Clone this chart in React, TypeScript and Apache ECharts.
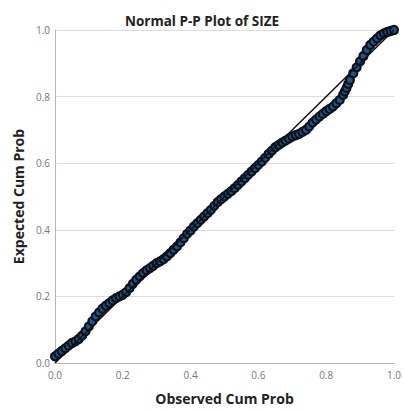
import React, { useEffect, useRef } from "react";
import * as echarts from "echarts";

const chartTitle = "Normal P-P Plot of SIZE";
const xAxisTitle = "Observed Cum Prob";
const yAxisTitle = "Expected Cum Prob";

const observedCumProb = [
  0.0, 0.01, 0.02, 0.03, 0.04, 0.05, 0.06, 0.07, 0.08, 0.09,
  0.1, 0.11, 0.12, 0.13, 0.14, 0.15, 0.16, 0.17, 0.18, 0.19,
  0.2, 0.21, 0.22, 0.23, 0.24, 0.25, 0.26, 0.27, 0.28, 0.29,
  0.3, 0.31, 0.32, 0.33, 0.34, 0.35, 0.36, 0.37, 0.38, 0.39,
  0.4, 0.41, 0.42, 0.43, 0.44, 0.45, 0.46, 0.47, 0.48, 0.49,
  0.5, 0.51, 0.52, 0.53, 0.54, 0.55, 0.56, 0.57, 0.58, 0.59,
  0.6, 0.61, 0.62, 0.63, 0.64, 0.65, 0.66, 0.67, 0.68, 0.69,
  0.7, 0.71, 0.72, 0.73, 0.74, 0.75, 0.76, 0.77, 0.78, 0.79,
  0.8, 0.81, 0.82, 0.83, 0.84, 0.85, 0.855, 0.86, 0.865, 0.87, 0.88, 0.89,
  0.9, 0.91, 0.92, 0.93, 0.94, 0.95, 0.96, 0.97, 0.98, 0.99,
  1.0,
];

const expectedCumProb = [
  0.02, 0.028, 0.036, 0.044, 0.052, 0.06, 0.065, 0.072, 0.082, 0.095,
  0.11, 0.125, 0.14, 0.152, 0.163, 0.172, 0.18, 0.188, 0.195, 0.2,
  0.205, 0.213, 0.225, 0.238, 0.25, 0.26, 0.27, 0.278, 0.285, 0.292,
  0.3, 0.305, 0.312, 0.32, 0.33, 0.34, 0.35, 0.362, 0.375, 0.388,
  0.398, 0.41, 0.42, 0.43, 0.44, 0.45, 0.46, 0.472, 0.483, 0.492,
  0.5, 0.508, 0.516, 0.525, 0.535, 0.545, 0.555, 0.565, 0.575, 0.585,
  0.595, 0.605, 0.616, 0.628, 0.638, 0.648, 0.655, 0.662, 0.668, 0.674,
  0.68, 0.684, 0.688, 0.694, 0.7, 0.71, 0.722, 0.731, 0.74, 0.748,
  0.756, 0.763, 0.77, 0.78, 0.79, 0.805, 0.815, 0.826, 0.838, 0.85, 0.87, 0.888,
  0.906, 0.922, 0.94, 0.955, 0.965, 0.975, 0.984, 0.99, 0.994, 0.997,
  1.0,
];

const diagonal = [
  [0, 0],
  [1, 1],
];

const tickFont = "'Open Sans', 'DejaVu Sans', sans-serif";

export default function App() {
  const ref = useRef<HTMLDivElement>(null);

  useEffect(() => {
    if (!ref.current) return;
    const chart = echarts.init(ref.current, undefined, { renderer: "svg" });
    const points = observedCumProb.map((x, i) => [x, expectedCumProb[i]]);
    chart.setOption({
      animation: false,
      backgroundColor: "#ffffff",
      title: {
        text: chartTitle,
        left: "center",
        top: 9,
        textStyle: {
          fontFamily: tickFont,
          fontWeight: "bold",
          fontSize: 13.5,
          color: "#222",
        },
      },
      grid: { left: 55, right: 10, top: 30, bottom: 40 },
      xAxis: {
        type: "value",
        min: 0,
        max: 1,
        interval: 0.2,
        name: xAxisTitle,
        nameLocation: "middle",
        nameGap: 28,
        nameTextStyle: {
          fontFamily: tickFont,
          fontWeight: "bold",
          fontSize: 14,
          color: "#222",
        },
        axisLine: { show: true, lineStyle: { color: "#b5b5b5", width: 1 } },
        axisTick: { show: false },
        splitLine: { show: false },
        axisLabel: {
          fontFamily: tickFont,
          fontSize: 10,
          color: "#777",
          margin: 7,
          formatter: (v: number) => v.toFixed(1),
        },
      },
      yAxis: {
        type: "value",
        min: 0,
        max: 1,
        interval: 0.2,
        name: yAxisTitle,
        nameLocation: "middle",
        nameRotate: 90,
        nameGap: 30,
        nameTextStyle: {
          fontFamily: tickFont,
          fontWeight: "bold",
          fontSize: 14,
          color: "#222",
        },
        axisLine: { show: true, lineStyle: { color: "#b5b5b5", width: 1 } },
        axisTick: { show: false },
        splitLine: { show: true, lineStyle: { color: "#dcdcdc", width: 1 } },
        axisLabel: {
          fontFamily: tickFont,
          fontSize: 10,
          color: "#777",
          margin: 5,
          formatter: (v: number) => v.toFixed(1),
        },
      },
      series: [
        {
          type: "scatter",
          data: points,
          symbol: "circle",
          symbolSize: 8,
          itemStyle: {
            color: "#1f5687",
            borderColor: "#0b121a",
            borderWidth: 2.2,
            opacity: 1,
          },
          z: 2,
        },
        {
          type: "line",
          data: diagonal,
          symbol: "none",
          lineStyle: { color: "#111", width: 1.5 },
          z: 3,
        },
      ],
    });
    return () => chart.dispose();
  }, []);

  return (
    <div
      ref={ref}
      style={{ position: "fixed", left: 0, top: 0, width: 404, height: 410 }}
    />
  );
}
